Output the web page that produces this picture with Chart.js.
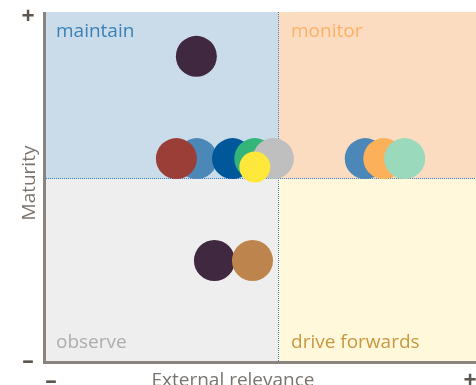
<!DOCTYPE html>
<html>
<head>
<meta charset="utf-8">
<script src="https://cdn.jsdelivr.net/npm/chart.js@4/dist/chart.umd.min.js"></script>
<style>
    html, body {margin: 0; padding: 0; background: #fff;}
    #wrap {width: 476px; height: 385px;}
</style>
</head>
<body>
<div id="wrap"><canvas id="chart" width="476" height="385"></canvas></div>
<script>
// Topics, placed by external relevance (x) and maturity (y)
const topics = [
    'topic 1', 'topic 2', 'topic 3', 'topic 4', 'topic 5', 'topic 6',
    'topic 7', 'topic 8', 'topic 9', 'topic 10', 'topic 11', 'topic 12',
];
const relevance = [3.24, 3.25, 2.81, 4.02, 4.50, 4.90, 4.50, 6.88, 7.28, 7.73, 3.63, 4.45];
const maturity = [8.37, 5.56, 5.56, 5.56, 5.56, 5.56, 5.33, 5.56, 5.56, 5.56, 2.76, 2.76];
const sizes = [20.5, 20.5, 20.5, 20.5, 20.5, 20.5, 15.5, 20.5, 20.5, 20.5, 20.5, 20.5];
const topicColors = [
    '#412841', '#4b88b8', '#9a3e37', '#00589a', '#33b479', '#bfbfbf',
    '#ffe83b', '#4b88b8', '#fdb05a', '#9bd9bd', '#412841', '#be844e',
];
const quadrants = ['maintain', 'monitor', 'observe', 'drive forwards'];
const axisTitles = ['External relevance', 'Maturity'];

// the split between low and high on both axes
const split = 5;

/**
 * Quadrant backgrounds, dividers, axes and labels
 */
const pluginQuadrants = {
    id: 'quadrants',
    beforeDatasetsDraw: function(chart) {
        'use strict';
        const {ctx, chartArea: a, scales} = chart;
        const mx = scales.x.getPixelForValue(split);
        const my = scales.y.getPixelForValue(split);
        ctx.save();
        ctx.fillStyle = '#cadcea';
        ctx.fillRect(a.left, a.top, mx - a.left, my - a.top);
        ctx.fillStyle = '#fcdcc1';
        ctx.fillRect(mx, a.top, a.right - mx, my - a.top);
        ctx.fillStyle = '#eeeeee';
        ctx.fillRect(a.left, my, mx - a.left, a.bottom - my);
        ctx.fillStyle = '#fff8da';
        ctx.fillRect(mx, my, a.right - mx, a.bottom - my);

        ctx.strokeStyle = '#3f82c4';
        ctx.lineWidth = 1;
        ctx.setLineDash([1, 1]);
        ctx.beginPath();
        ctx.moveTo(Math.round(mx) + 0.5, a.top);
        ctx.lineTo(Math.round(mx) + 0.5, a.bottom);
        ctx.moveTo(a.left, Math.round(my) - 0.5);
        ctx.lineTo(a.right, Math.round(my) - 0.5);
        ctx.stroke();
        ctx.setLineDash([]);

        ctx.font = '19px "Open Sans"';
        ctx.textBaseline = 'alphabetic';
        ctx.textAlign = 'left';
        const labelColors = ['#3b80b6', '#fdb064', '#adadad', '#c99740'];
        const spots = [
            [a.left + 10, a.top + 25], [mx + 13, a.top + 25],
            [a.left + 10, a.bottom - 13], [mx + 13, a.bottom - 13],
        ];
        quadrants.forEach(function(text, i) {
            ctx.fillStyle = labelColors[i];
            ctx.fillText(text, spots[i][0], spots[i][1]);
        });

        // axes
        ctx.strokeStyle = '#8b847e';
        ctx.lineWidth = 3;
        ctx.beginPath();
        ctx.moveTo(a.left - 1.5, a.top);
        ctx.lineTo(a.left - 1.5, a.bottom + 3);
        ctx.moveTo(a.left - 3, a.bottom + 1.5);
        ctx.lineTo(a.right, a.bottom + 1.5);
        ctx.stroke();

        ctx.fillStyle = '#5c5651';
        ctx.font = 'bold 23px "Open Sans"';
        ctx.textAlign = 'center';
        ctx.textBaseline = 'middle';
        ctx.fillText('+', 28, 17);
        ctx.fillText('\u2013', 28, 361);
        ctx.fillText('\u2013', 51, 381);
        ctx.fillText('+', 470, 381);

        ctx.fillStyle = '#7b746e';
        ctx.font = '19px "Open Sans"';
        ctx.textBaseline = 'alphabetic';
        ctx.fillText(axisTitles[0], 233, 386);
        ctx.save();
        ctx.translate(35, 183);
        ctx.rotate(-Math.PI / 2);
        ctx.fillText(axisTitles[1], 0, 0);
        ctx.restore();
        ctx.restore();
    },
};

const chartQuadrant = {
    /**
     * Create the bubble chart
     *
     * @param {Object} ctx Canvas context to use
     * @return {Object} Chart object
     */
    create: function(ctx) {
        'use strict';
        const points = topics.map(function(name, i) {
            return {x: relevance[i], y: maturity[i], r: sizes[i]};
        });
        return new Chart(ctx, {
            type: 'bubble',
            data: {
                labels: topics,
                datasets: [{
                    data: points,
                    backgroundColor: topicColors,
                    borderWidth: 0,
                    hoverRadius: 0,
                }],
            },
            options: {
                responsive: false,
                animation: false,
                events: [],
                layout: {
                    autoPadding: false,
                    padding: {left: 46, top: 12, right: 0, bottom: 24},
                },
                scales: {
                    x: {type: 'linear', display: false, min: 0, max: 9.267},
                    y: {type: 'linear', display: false, min: 0, max: 9.588},
                },
                plugins: {
                    legend: {display: false},
                    tooltip: {enabled: false},
                },
            },
            plugins: [pluginQuadrants],
        });
    },
};

chartQuadrant.create(document.getElementById('chart'));
</script>
</body>
</html>
